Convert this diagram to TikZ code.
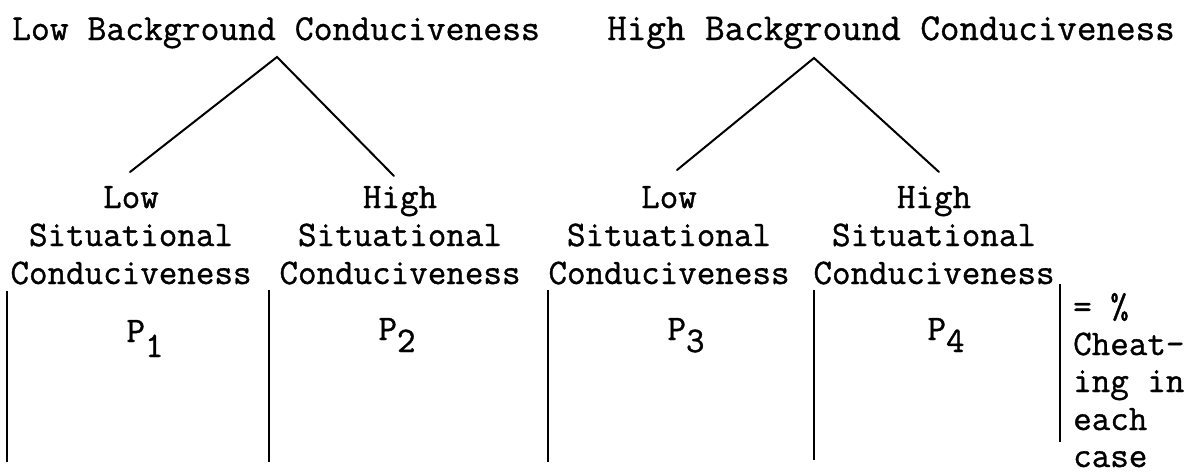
\documentclass[tikz,border=0pt]{standalone}
\usepackage{fontspec}
\newfontfamily\tw{Latin Modern Mono}[FakeBold=1]
\begin{document}
\begin{tikzpicture}[x=1pt,y=-1pt,
  txt/.style={font=\tw\fontsize{36}{40}\selectfont, inner sep=0pt, anchor=base},
  ltxt/.style={txt, anchor=base west},
  conn/.style={line width=2pt, line cap=round, line join=miter},
  rule/.style={line width=1.8pt},
]
\useasboundingbox (0,0) rectangle (1192,475);
% titles
\node[txt, font=\tw\fontsize{36.6}{40}\selectfont] (bg1) at (276,40) {Low Background Conduciveness};
\node[txt, font=\tw\fontsize{38}{40}\selectfont] (bg2) at (891,40) {High Background Conduciveness};
% column headings
\node[txt] (c1a) at (131,208) {Low};
\node[txt] (c1b) at (131,246) {Situational};
\node[txt] (c1c) at (131,284) {Conduciveness};
\node[txt] (c2a) at (400,208) {High};
\node[txt] (c2b) at (400,246) {Situational};
\node[txt] (c2c) at (400,284) {Conduciveness};
\node[txt] (c3a) at (669,208) {Low};
\node[txt] (c3b) at (669,246) {Situational};
\node[txt] (c3c) at (669,284) {Conduciveness};
\node[txt] (c4a) at (934,208) {High};
\node[txt] (c4b) at (934,246) {Situational};
\node[txt] (c4c) at (934,284) {Conduciveness};
% tree connectors
\coordinate (apex1) at (277,57);
\coordinate (f1) at (130,172);
\coordinate (f2) at (394,176);
\coordinate (apex2) at (814,58);
\coordinate (f3) at (677,170);
\coordinate (f4) at (939,172);
\draw[conn] (f1) -- (apex1) -- (f2);
\draw[conn] (f3) -- (apex2) -- (f4);
% vertical rules
\foreach \x/\t/\b in {7/291/462, 269/290/462, 548/290/462, 814/290/460, 1060/284/442}
  \draw[rule] (\x,\t) -- (\x,\b);
% cells
\node[txt] (p1) at (145,342) {P\raisebox{-15pt}{1}};
\node[txt] (p2) at (397,340) {P\raisebox{-12pt}{2}};
\node[txt] (p3) at (686,340) {P\raisebox{-12pt}{3}};
\node[txt] (p4) at (946,340) {P\raisebox{-12pt}{4}};
% right note
\node[ltxt] (n1) at (1073,318) {= \%};
\node[ltxt] (n2) at (1073,355) {Cheat-};
\node[ltxt] (n3) at (1073,392) {ing in};
\node[ltxt] (n4) at (1073,430) {each};
\node[ltxt] (n5) at (1073,467) {case};
\end{tikzpicture}
\end{document}
